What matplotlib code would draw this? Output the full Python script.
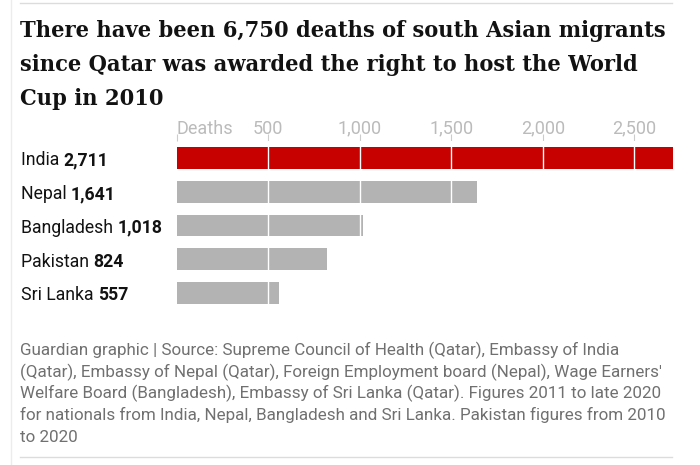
import matplotlib
matplotlib.use("Agg")
import matplotlib.pyplot as plt
from matplotlib.lines import Line2D

# data
countries = ["India", "Nepal", "Bangladesh", "Pakistan", "Sri Lanka"]
deaths = [2711, 1641, 1018, 824, 557]
value_labels = ["2,711", "1,641", "1,018", "824", "557"]
bar_colors = ["#c70000", "#b3b3b3", "#b3b3b3", "#b3b3b3", "#b3b3b3"]
ticks = [0, 500, 1000, 1500, 2000, 2500]
tick_labels = ["Deaths", "500", "1,000", "1,500", "2,000", "2,500"]

title_lines = ["There have been 6,750 deaths of south Asian migrants",
               "since Qatar was awarded the right to host the World",
               "Cup in 2010"]
source_lines = ["Guardian graphic | Source: Supreme Council of Health (Qatar), Embassy of India",
                "(Qatar), Embassy of Nepal (Qatar), Foreign Employment board (Nepal), Wage Earners'",
                "Welfare Board (Bangladesh), Embassy of Sri Lanka (Qatar). Figures 2011 to late 2020",
                "for nationals from India, Nepal, Bangladesh and Sri Lanka. Pakistan figures from 2010",
                "to 2020"]

W, H = 700, 465
fig = plt.figure(figsize=(W / 100, H / 100), dpi=100)

def fx(px):
    return px / W

def fy(py):
    return 1 - py / H

sans = "Roboto"
serif = "DejaVu Serif"

# rules
fig.add_artist(Line2D([fx(20), fx(672)], [fy(3), fy(3)], color="#dcdcdc", lw=1))
fig.add_artist(Line2D([fx(20), fx(672)], [fy(457), fy(457)], color="#dcdcdc", lw=1))
fig.add_artist(Line2D([fx(10.5), fx(10.5)], [fy(0), fy(465)], color="#ececec", lw=1))

# title
for i, line in enumerate(title_lines):
    fig.text(fx(20), fy(37 + i * 34), line, ha="left", va="baseline", fontsize=16.8,
             fontweight="bold", family=serif, fontstretch="condensed", color="#121212")

# axes
ax = fig.add_axes([fx(176.5), fy(310), fx(673 - 176.5), (310 - 141) / H])
y = list(range(len(countries)))
ax.barh(y, deaths, height=0.65, color=bar_colors, zorder=1)
ax.set_xlim(0, 2711)
ax.set_ylim(4.5, -0.5)
for t in ticks[1:]:
    ax.axvline(t, color="white", lw=1, zorder=2)
ax.set_yticks([])
ax.set_xticks(ticks)
ax.set_xticklabels([])
ax.xaxis.tick_top()
ax.tick_params(axis="x", length=5, width=0.8, color="#cccccc", pad=0)
for s in ax.spines.values():
    s.set_visible(False)

for t, lab in zip(ticks, tick_labels):
    ax.annotate(lab, xy=(t, 1), xycoords=("data", "axes fraction"),
                xytext=(0, 5.2), textcoords="offset points",
                ha="left" if t == 0 else "center", va="baseline",
                fontsize=13, family=sans, color="#bbbbbb")

# labels
renderer = fig.canvas.get_renderer()
for i, (c, v) in enumerate(zip(countries, value_labels)):
    ypx = 158.5 + i * 33.8 + 6.8
    t = fig.text(fx(21), fy(ypx), c + " ", ha="left", va="baseline",
                 fontsize=12.7, family=sans, color="#121212")
    bb = t.get_window_extent(renderer)
    fig.text(bb.x1 / W, fy(ypx), v, ha="left", va="baseline",
             fontsize=12.7, family=sans, fontweight="bold", color="#121212")

# source
for i, line in enumerate(source_lines):
    fig.text(fx(20), fy(355 + i * 21.7), line, ha="left", va="baseline",
             fontsize=12.25, family=sans, color="#707070")

fig.savefig("out.png", dpi=100)
